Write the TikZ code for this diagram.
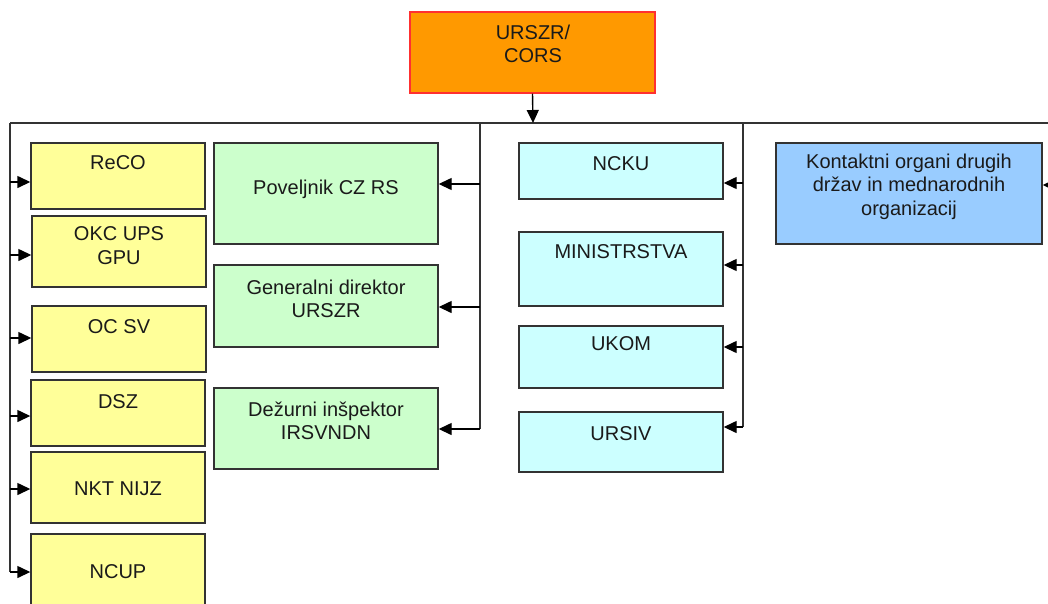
\documentclass[tikz,border=0pt]{standalone}
\usepackage{fontspec}
\setmainfont{Liberation Sans}
\usetikzlibrary{arrows.meta}
\definecolor{yel}{HTML}{FFFF99}
\definecolor{grn}{HTML}{CCFFCC}
\definecolor{cyn}{HTML}{CCFFFF}
\definecolor{blu}{HTML}{99CCFF}
\definecolor{org}{HTML}{FF9900}
\definecolor{redb}{HTML}{FF3030}
\definecolor{edge}{HTML}{333333}
\definecolor{ink}{HTML}{1A1A1A}
\tikzset{
  box/.style={draw=edge, line width=1.4pt, inner sep=0pt, rectangle},
  ybox/.style={box, fill=yel},
  gbox/.style={box, fill=grn},
  cbox/.style={box, fill=cyn},
  bbox/.style={box, fill=blu},
  obox/.style={draw=redb, line width=1.4pt, inner sep=0pt, fill=org},
  txt/.style={text=ink, align=center, inner sep=0pt, font=\fontsize{20}{23.5}\selectfont},
  bus/.style={draw=edge, line width=1.4pt},
  arr/.style={draw=black, line width=1.4pt, -{Triangle[length=13pt,width=12pt]}}
}
\newcommand\bx[6]{\node[#6, minimum width={#4-#2}, minimum height={#5-#3}] (#1) at ({(#2+#4)/2},{(#3+#5)/2}) {};}
\begin{document}
\begin{tikzpicture}[x=1pt,y=-1pt]
\useasboundingbox (0,0) rectangle (1048,603);
\clip (0,0) rectangle (1048,603);
% boxes
\bx{top}{410}{12}{655}{93}{obox}
\bx{reco}{31}{143}{205}{209}{ybox}
\bx{okc}{32}{216}{206}{287}{ybox}
\bx{ocsv}{32}{306}{206}{372}{ybox}
\bx{dsz}{31}{380}{205}{446}{ybox}
\bx{nkt}{31}{452}{205}{523}{ybox}
\bx{ncup}{31}{534}{205}{612}{ybox}
\bx{pov}{214}{143}{438}{244}{gbox}
\bx{gen}{214}{265}{438}{347}{gbox}
\bx{dez}{214}{388}{438}{469}{gbox}
\bx{ncku}{519}{143}{723}{199}{cbox}
\bx{min}{519}{232}{723}{306}{cbox}
\bx{ukom}{519}{326}{723}{388}{cbox}
\bx{ursiv}{519}{412}{723}{472}{cbox}
\bx{kont}{776}{143}{1042}{244}{bbox}
% texts
\node[txt] (ttop) at (533,44) {URSZR/\\CORS};
\node[txt] (treco) at (118,163) {ReCO};
\node[txt] (tokc) at (119,245.5) {OKC UPS\\GPU};
\node[txt] (tocsv) at (119,327) {OC SV};
\node[txt] (tdsz) at (118,402) {DSZ};
\node[txt] (tnkt) at (118,489) {NKT NIJZ};
\node[txt] (tncup) at (118,572) {NCUP};
\node[txt] (tpov) at (326,189) {Poveljnik CZ RS};
\node[txt] (tgen) at (326,299) {Generalni direktor\\URSZR};
\node[txt] (tdez) at (326,421) {Dežurni inšpektor\\IRSVNDN};
\node[txt] (tncku) at (621,164) {NCKU};
\node[txt] (tmin) at (621,252) {MINISTRSTVA};
\node[txt] (tukom) at (621,344) {UKOM};
\node[txt] (tursiv) at (621,434) {URSIV};
\node[txt] (tkont) at (909,186.5) {Kontaktni organi drugih\\držav in mednarodnih\\organizacij};
% bus coordinates
\coordinate (hb) at (533,123);
\coordinate (lt) at (10,123);
\coordinate (rt) at (1058,123);
\coordinate (mt) at (480,123);
\coordinate (ct) at (743,123);
\coordinate (l1) at (10,182);
\coordinate (l2) at (10,255);
\coordinate (l3) at (10,338);
\coordinate (l4) at (10,416);
\coordinate (l5) at (10,489);
\coordinate (l6) at (10,572);
\coordinate (m1) at (480,184);
\coordinate (m2) at (480,307);
\coordinate (m3) at (480,429);
\coordinate (c1) at (743,183);
\coordinate (c2) at (743,265);
\coordinate (c3) at (743,347);
\coordinate (c4) at (743,427);
\coordinate (r1) at (1058,185);
% buses
\draw[bus] (lt) -- (rt) -- (r1);
\draw[bus] (lt) -- (l6);
\draw[bus] (mt) -- (m3);
\draw[bus] (ct) -- (c4);
% arrows
\draw[arr] (top.south) -- (hb);
\draw[arr] (l1) -- (l1 -| reco.west);
\draw[arr] (l2) -- (l2 -| okc.west);
\draw[arr] (l3) -- (l3 -| ocsv.west);
\draw[arr] (l4) -- (l4 -| dsz.west);
\draw[arr] (l5) -- (l5 -| nkt.west);
\draw[arr] (l6) -- (l6 -| ncup.west);
\draw[arr] (m1) -- (m1 -| pov.east);
\draw[arr] (m2) -- (m2 -| gen.east);
\draw[arr] (m3) -- (m3 -| dez.east);
\draw[arr] (c1) -- (c1 -| ncku.east);
\draw[arr] (c2) -- (c2 -| min.east);
\draw[arr] (c3) -- (c3 -| ukom.east);
\draw[arr] (c4) -- (c4 -| ursiv.east);
\draw[arr] (r1) -- (r1 -| kont.east);
\end{tikzpicture}
\end{document}
